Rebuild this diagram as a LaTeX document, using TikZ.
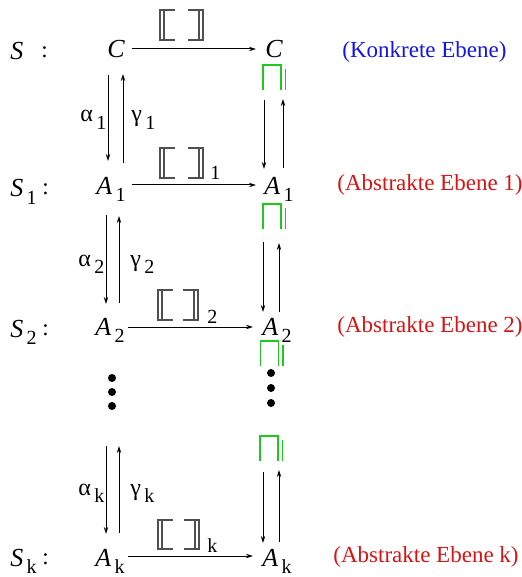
\documentclass[tikz,border=0pt]{standalone}
\usepackage{fontspec}
\setmainfont{Liberation Serif}
\usetikzlibrary{arrows.meta}
\definecolor{blu}{RGB}{20,20,230}
\definecolor{rd}{RGB}{215,20,20}
\definecolor{grn}{RGB}{30,200,30}
\definecolor{brk}{RGB}{80,80,80}
\newcommand{\sbx}[1]{\raisebox{-0.3em}{\fontsize{10}{12}\selectfont\upshape\,#1}}
\begin{document}
\begin{tikzpicture}[x=0.5pt,y=-0.5pt,
  letter/.style={anchor=base west,inner sep=0pt,font=\fontsize{13}{15}\selectfont\itshape},
  greek/.style={anchor=base west,inner sep=0pt,font=\fontsize{12}{14}\selectfont},
  level/.style={anchor=base west,inner sep=0pt,font=\fontsize{11.5}{14}\selectfont},
  sub/.style={anchor=base west,inner sep=0pt,font=\fontsize{10}{12}\selectfont},
  arr/.style={-{Stealth[length=3.5pt,width=2.2pt]},line width=0.5pt},
  dot/.style={fill=black,circle,inner sep=0pt,minimum size=4pt},
  pics/dbr/.style 2 args={code={
    \draw[brk,line width=0.55pt] (15,0) -- (0,0) -- (0,#2) -- (15,#2) (4,0) -- (4,#2);
    \draw[brk,line width=0.55pt] (#1-15,0) -- (#1,0) -- (#1,#2) -- (#1-15,#2) (#1-4,0) -- (#1-4,#2);
  }},
  pics/sqc/.style={code={
    \draw[grn,line width=0.6pt] (0,25) -- (0,0) -- (18,0) -- (18,25);
    \draw[grn,line width=0.6pt] (22.5,4) -- (22.5,25);
  }}
  ]
\useasboundingbox (0,0) rectangle (521,577);

% ---- row labels
\node[letter] (s0) at (10,60) {S};
\node[level] (s0c) at (41,58) {:};
\node[letter] (s1) at (10,197) {S\sbx{1}};
\node[level] (s1c) at (42,195) {:};
\node[letter] (s2) at (10,337) {S\sbx{2}};
\node[level] (s2c) at (42,335) {:};
\node[letter] (sk) at (10,566) {S\sbx{k}};
\node[level] (skc) at (42,564) {:};

% ---- letters
\node[letter] (c0l) at (107,58) {C};
\node[letter] (c0r) at (265,58) {C};
\node[letter] (a1l) at (96,194) {A\sbx{1}};
\node[letter] (a1r) at (264,194) {A\sbx{1}};
\node[letter] (a2l) at (95,335) {A\sbx{2}};
\node[letter] (a2r) at (262,335) {A\sbx{2}};
\node[letter] (akl) at (95,566) {A\sbx{k}};
\node[letter] (akr) at (262,566) {A\sbx{k}};

% ---- level descriptions
\node[level,text=blu] (l0) at (342,58) {(Konkrete Ebene)};
\node[level,text=rd] (l1) at (337,191) {(Abstrakte Ebene 1)};
\node[level,text=rd] (l2) at (337,332) {(Abstrakte Ebene 2)};
\node[level,text=rd] (lk) at (333,562) {(Abstrakte Ebene k)};

% ---- greek labels
\node[greek] (al1) at (80,122) {α\sbx{1}};
\node[greek] (ga1) at (131,122) {γ\sbx{1}};
\node[greek] (al2) at (78,266) {α\sbx{2}};
\node[greek] (ga2) at (130,266) {γ\sbx{2}};
\node[greek] (alk) at (78,495) {α\sbx{k}};
\node[greek] (gak) at (130,495) {γ\sbx{k}};

% ---- semantic brackets
\pic at (160,10) {dbr={43}{30}};
\pic at (160,148) {dbr={43}{30}};
\node[sub] (b1) at (210,180) {1};
\pic at (158,290) {dbr={40}{30}};
\node[sub] (b2) at (207,323) {2};
\pic at (158,520) {dbr={41}{29}};
\node[sub] (bk) at (207,552) {k};

% ---- green symbols
\pic at (263,65) {sqc};
\pic at (263,204) {sqc};
\pic at (260.5,341) {sqc};
\pic at (260,436) {sqc};

% ---- dots
\node[dot] (dl1) at (112,378) {};
\node[dot] (dl2) at (112,392) {};
\node[dot] (dl3) at (112,406) {};
\node[dot] (dr1) at (271,373) {};
\node[dot] (dr2) at (271,388) {};
\node[dot] (dr3) at (271,403) {};

% ---- connector end points
\coordinate (h0a) at (132,49);  \coordinate (h0b) at (256,49);
\coordinate (h1a) at (132,185); \coordinate (h1b) at (256,185);
\coordinate (h2a) at (128,327); \coordinate (h2b) at (253,327);
\coordinate (hka) at (128,556); \coordinate (hkb) at (253,556);

\coordinate (v0a) at (108,75);  \coordinate (v0b) at (108,161);
\coordinate (v0c) at (123,163); \coordinate (v0d) at (123,74);
\coordinate (w0a) at (264,100); \coordinate (w0b) at (264,169);
\coordinate (w0c) at (283,168); \coordinate (w0d) at (283,99);

\coordinate (v1a) at (106,215); \coordinate (v1b) at (106,304);
\coordinate (v1c) at (119,303); \coordinate (v1d) at (119,216);
\coordinate (w1a) at (263,242); \coordinate (w1b) at (263,312);
\coordinate (w1c) at (279,312); \coordinate (w1d) at (279,243);

\coordinate (vka) at (106,446); \coordinate (vkb) at (106,534);
\coordinate (vkc) at (119,533); \coordinate (vkd) at (119,446);
\coordinate (wka) at (263,472); \coordinate (wkb) at (263,543);
\coordinate (wkc) at (279,542); \coordinate (wkd) at (279,470);

% ---- connectors
\draw[arr] (h0a) -- (h0b);
\draw[arr] (h1a) -- (h1b);
\draw[arr] (h2a) -- (h2b);
\draw[arr] (hka) -- (hkb);

\draw[arr] (v0a) -- (v0b);
\draw[arr] (v0c) -- (v0d);
\draw[arr] (w0a) -- (w0b);
\draw[arr] (w0c) -- (w0d);
\draw[arr] (v1a) -- (v1b);
\draw[arr] (v1c) -- (v1d);
\draw[arr] (w1a) -- (w1b);
\draw[arr] (w1c) -- (w1d);
\draw[arr] (vka) -- (vkb);
\draw[arr] (vkc) -- (vkd);
\draw[arr] (wka) -- (wkb);
\draw[arr] (wkc) -- (wkd);
\end{tikzpicture}
\end{document}
